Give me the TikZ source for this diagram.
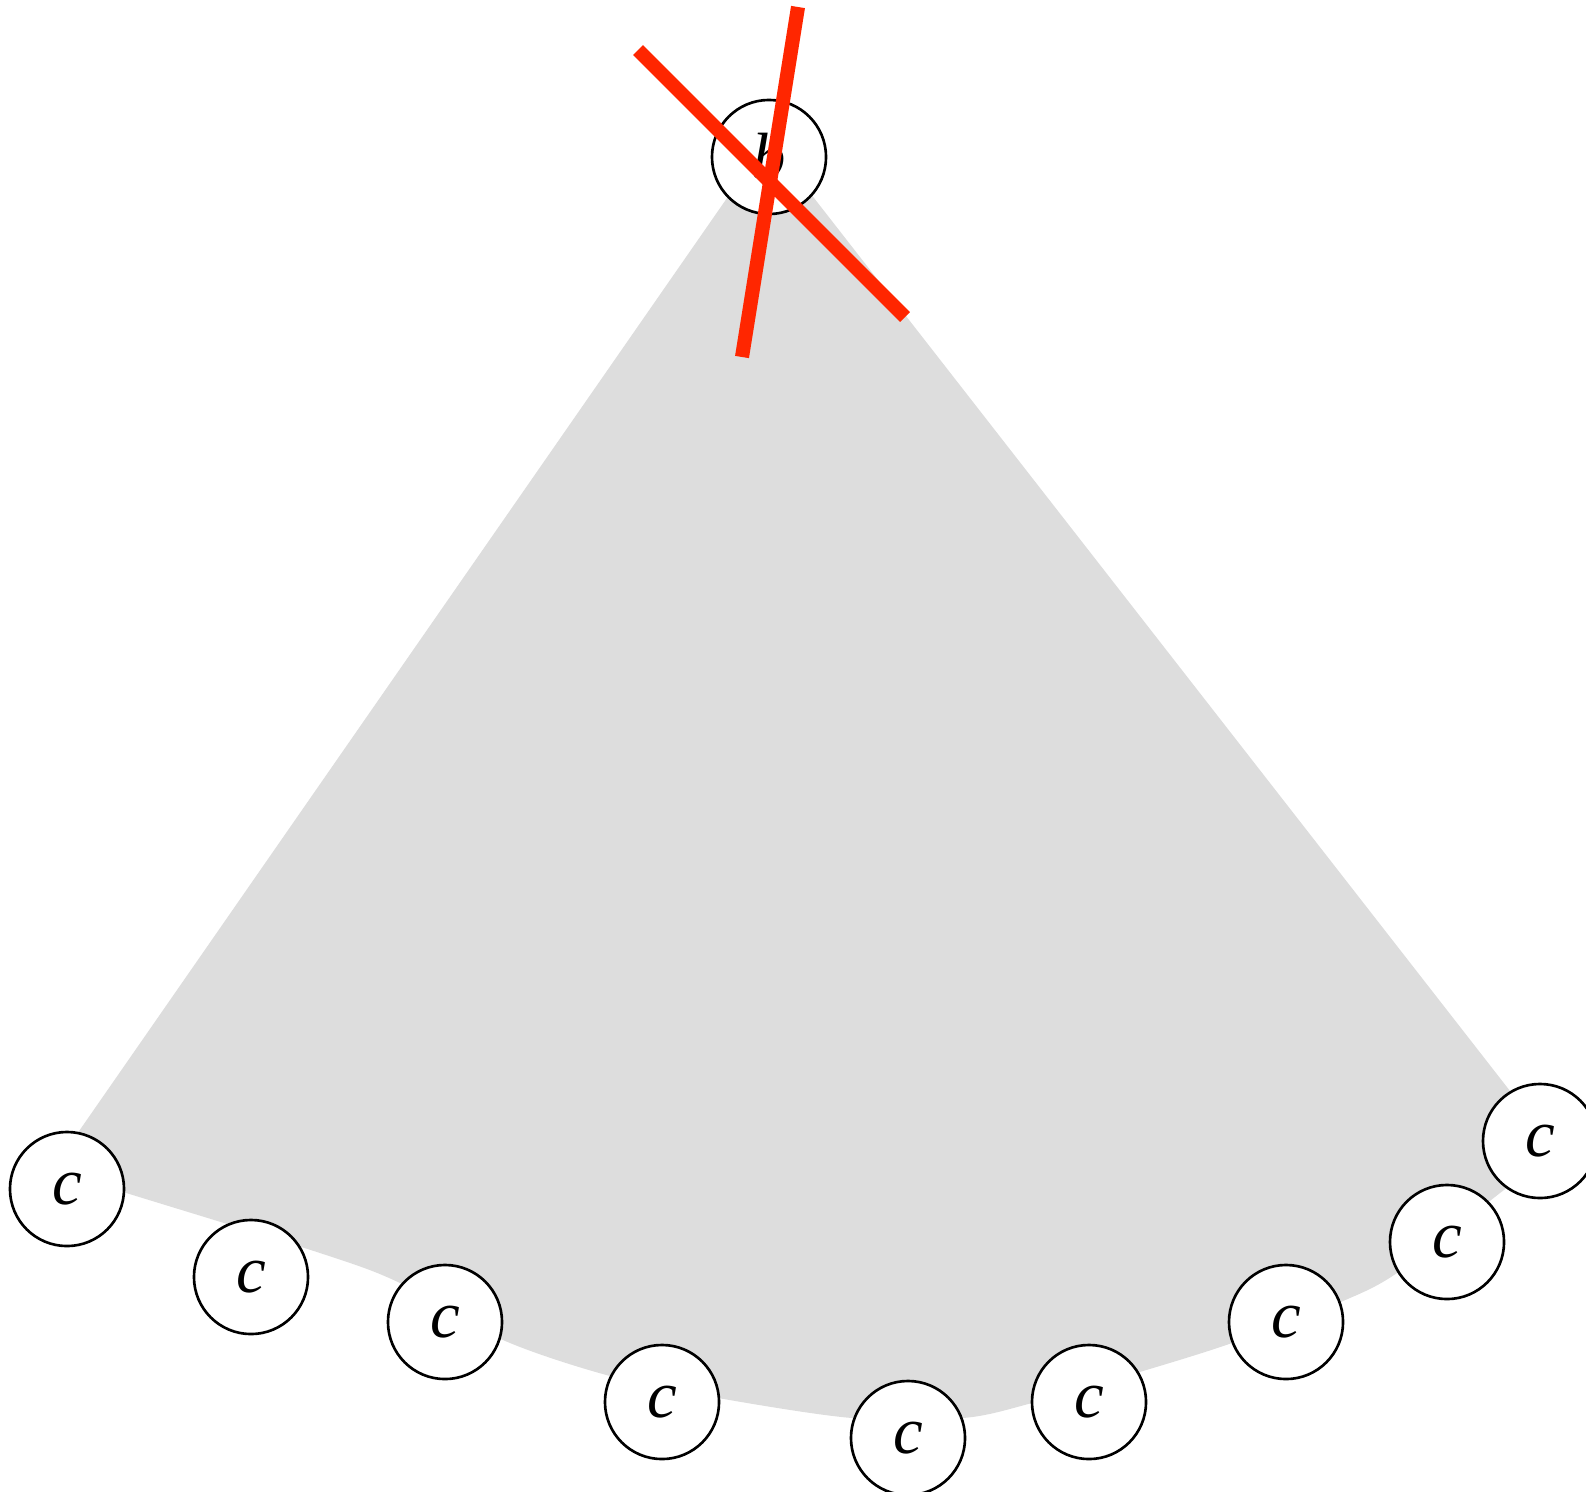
\documentclass[tikz,border=0pt]{standalone}
\usepackage{fontspec}
\setmainfont{Liberation Serif}
\definecolor{fanGray}{RGB}{221,221,221}
\definecolor{crossRed}{RGB}{255,38,0}
\tikzset{
  vtx/.style={circle,draw=black,fill=white,line width=0.75pt,minimum size=1.14cm,inner sep=0pt,
    font=\fontsize{19}{19}\selectfont\itshape},
  crossline/.style={draw=crossRed,line width=4pt,line cap=butt}
}
\begin{document}
\begin{tikzpicture}[x=0.01cm,y=-0.01cm]
\useasboundingbox (0,0) rectangle (1586,1491);
% fan
\fill[fanGray] (768,139) -- plot[smooth,tension=0.5] coordinates {(52,1170) (123,1192) (320,1253) (400,1283) (503,1340) (610,1376) (718,1398) (852,1418) (963,1418) (1032,1403) (1143,1371) (1232,1343) (1343,1301) (1400,1271) (1500,1193) (1556,1150)} -- cycle;
% nodes
\node[vtx] (b) at (769,157) {b};
\node[vtx] (c1) at (67,1189) {c};
\node[vtx] (c2) at (251,1277) {c};
\node[vtx] (c3) at (445,1322) {c};
\node[vtx] (c4) at (662,1402) {c};
\node[vtx] (c5) at (908,1438) {c};
\node[vtx] (c6) at (1089,1402) {c};
\node[vtx] (c7) at (1286,1322) {c};
\node[vtx] (c8) at (1447,1242) {c};
\node[vtx] (c9) at (1540,1141) {c};
% red cross
\coordinate (r1a) at (638,50);
\coordinate (r1b) at (905,317);
\coordinate (r2a) at (798,7);
\coordinate (r2b) at (742,357);
\draw[crossline] (r1a) -- (r1b);
\draw[crossline] (r2a) -- (r2b);
\end{tikzpicture}
\end{document}
